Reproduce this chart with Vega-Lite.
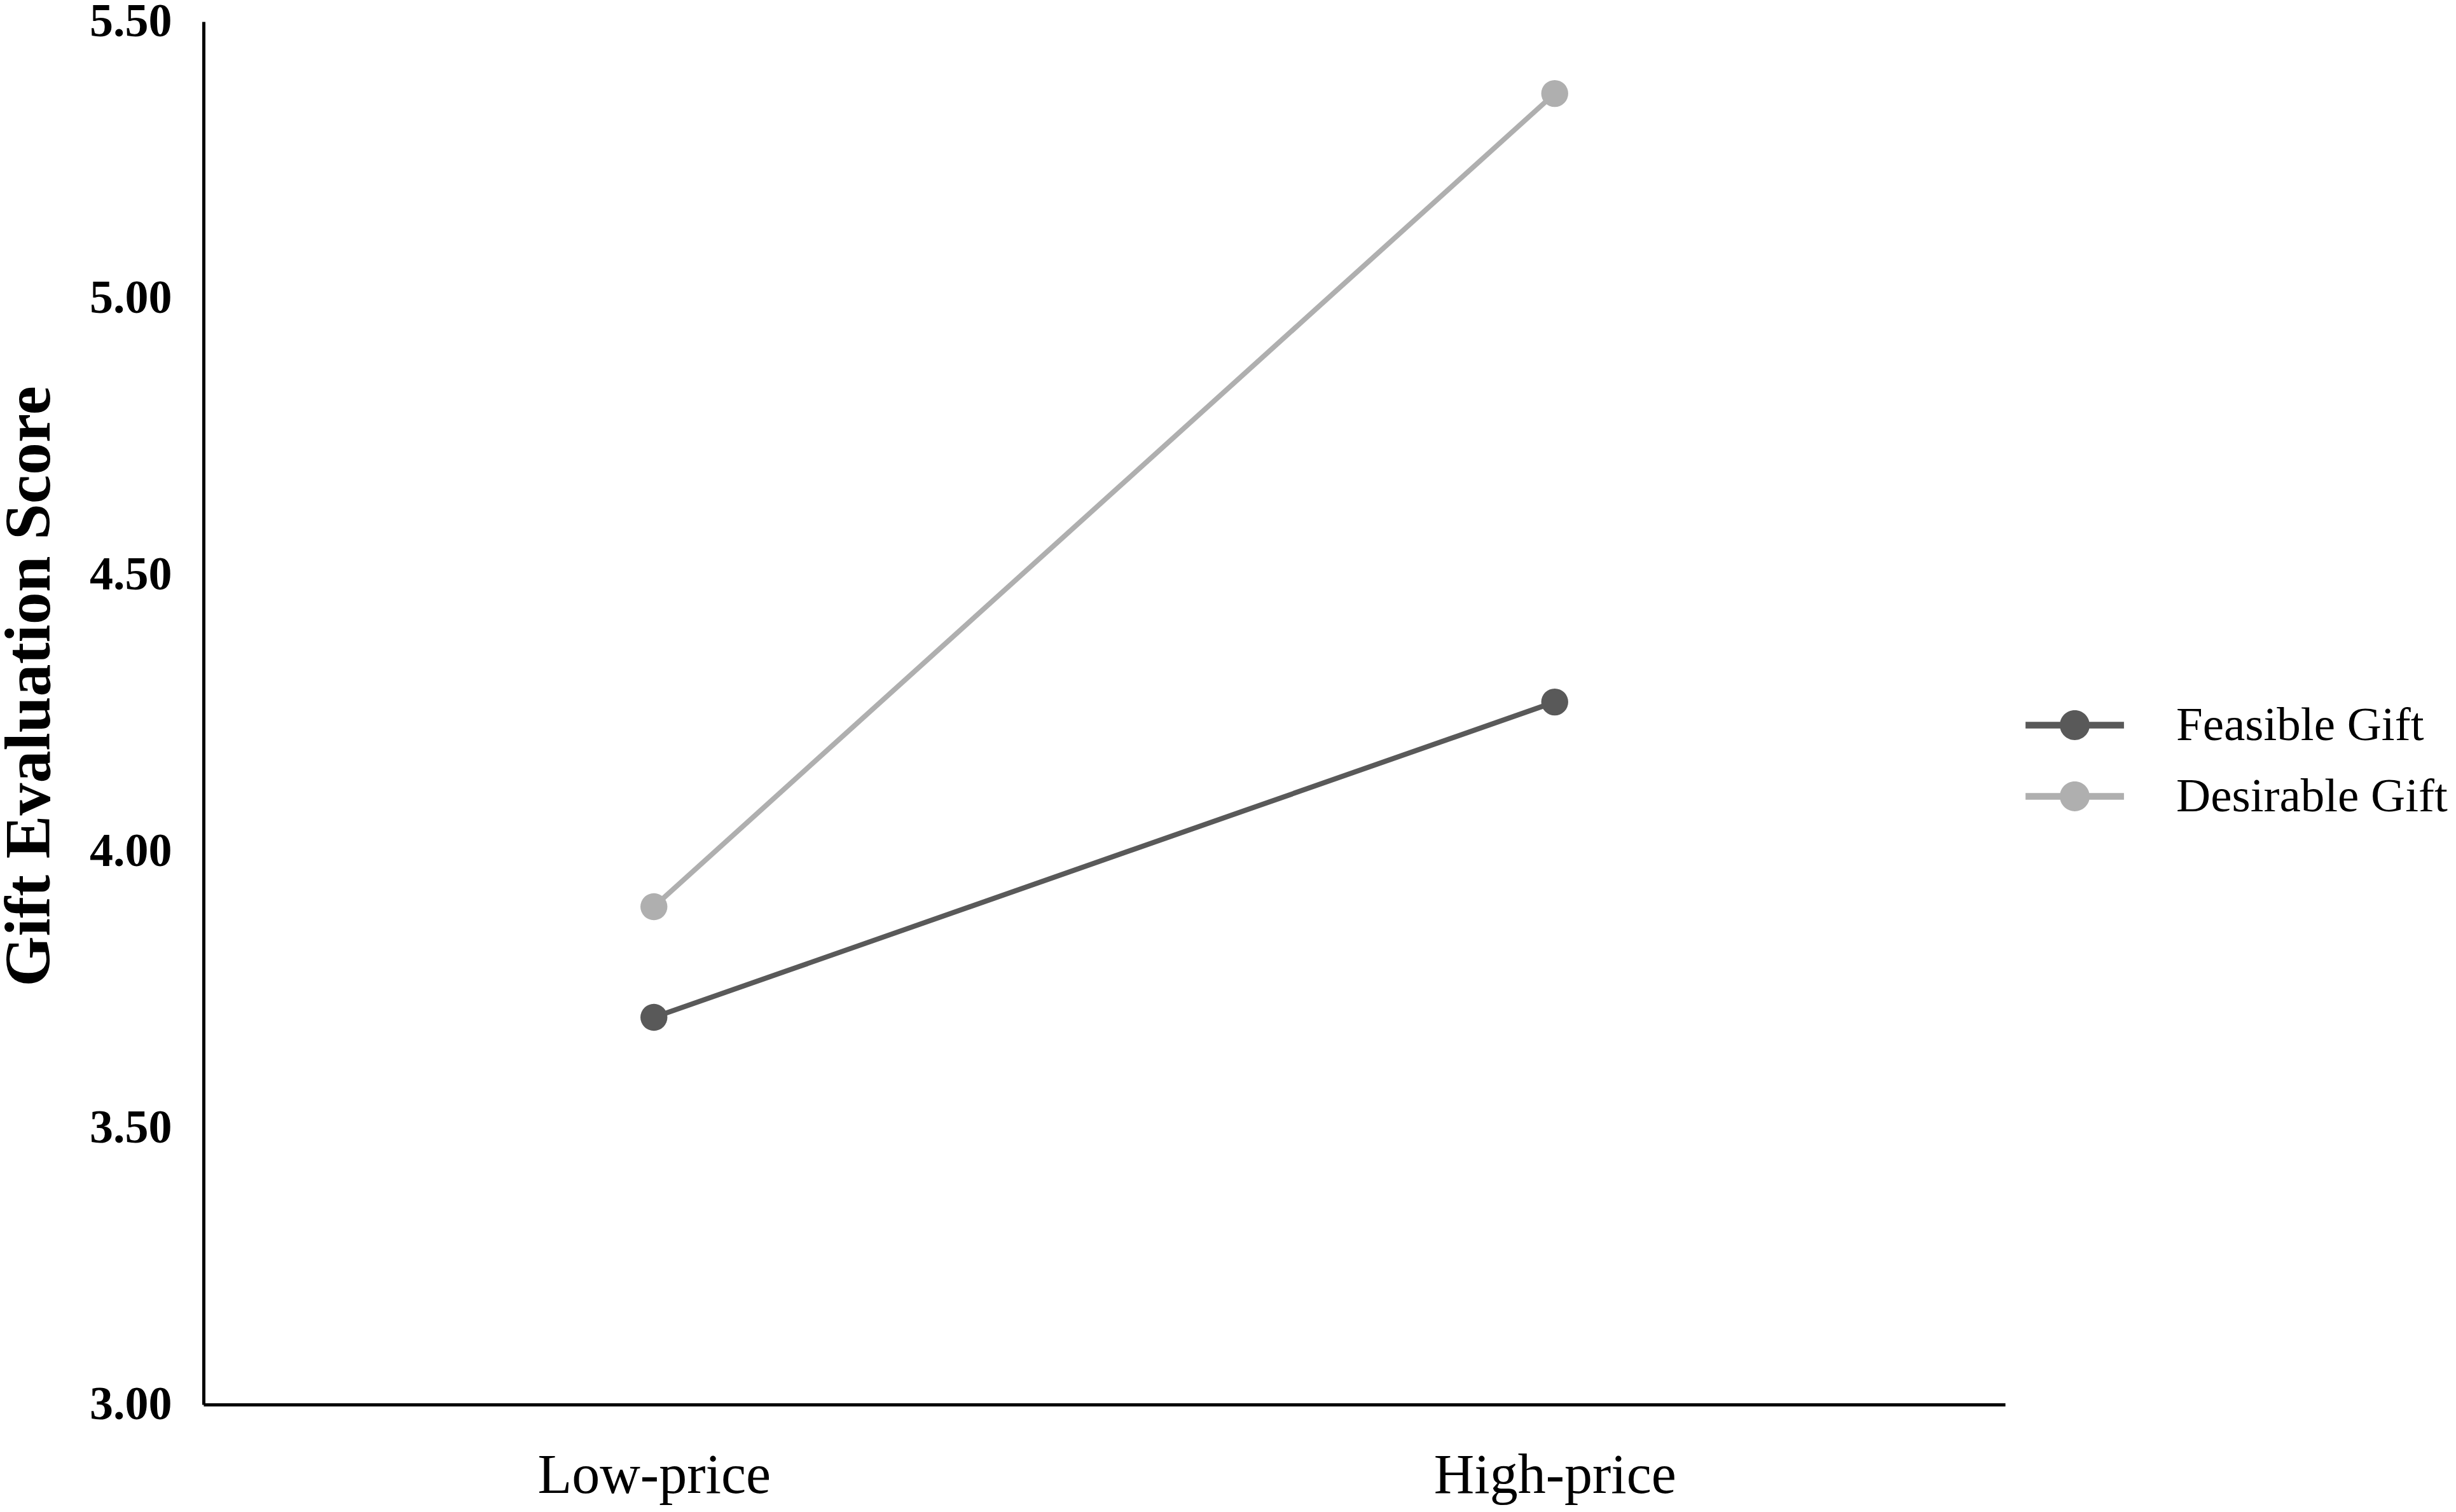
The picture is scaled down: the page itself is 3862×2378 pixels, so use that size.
{
  "$schema": "https://vega.github.io/schema/vega-lite/v6.json",
  "autosize": {"type": "none"},
  "width": 2833,
  "height": 2175,
  "padding": {"left": 320, "top": 34, "right": 709, "bottom": 169},
  "background": "white",
  "config": {
    "view": {"stroke": null},
    "font": "Liberation Serif"
  },
  "data": {
    "values": [
      {"price": "Low-price", "gift": "Feasible Gift", "score": 3.70},
      {"price": "High-price", "gift": "Feasible Gift", "score": 4.27},
      {"price": "Low-price", "gift": "Desirable Gift", "score": 3.90},
      {"price": "High-price", "gift": "Desirable Gift", "score": 5.37}
    ]
  },
  "encoding": {
    "x": {
      "field": "price",
      "type": "nominal",
      "sort": ["Low-price", "High-price"],
      "scale": {"type": "point", "padding": 0.5},
      "axis": {
        "title": null,
        "labelAngle": 0,
        "labelFont": "Liberation Serif",
        "labelFontSize": 88,
        "labelColor": "black",
        "labelPadding": 68,
        "labelLimit": 2000,
        "ticks": false,
        "domainColor": "black",
        "domainWidth": 5,
        "grid": false
      }
    },
    "y": {
      "field": "score",
      "type": "quantitative",
      "scale": {"domain": [3, 5.5], "nice": false, "zero": false},
      "axis": {
        "title": "Gift Evaluation Score",
        "titleFont": "Liberation Serif",
        "titleFontSize": 102,
        "titleFontWeight": "bold",
        "titleColor": "black",
        "titlePadding": 42,
        "titleY": 1045,
        "values": [3, 3.5, 4, 4.5, 5, 5.5],
        "format": ".2f",
        "labelFont": "Liberation Serif",
        "labelFontSize": 74,
        "labelFontWeight": "bold",
        "labelColor": "black",
        "labelPadding": 50,
        "ticks": false,
        "domainColor": "black",
        "domainWidth": 5,
        "grid": false
      }
    },
    "color": {
      "field": "gift",
      "type": "nominal",
      "sort": ["Feasible Gift", "Desirable Gift"],
      "scale": {"domain": ["Feasible Gift", "Desirable Gift"], "range": ["#595959", "#afafaf"]},
      "legend": {
        "title": null,
        "orient": "none",
        "legendX": 2905,
        "legendY": 1069,
        "padding": 0,
        "symbolType": "M-3.3,-0.22H3.3V0.22H-3.3Z M-1,0A1,1 0 1,1 1,0A1,1 0 1,1 -1,0Z",
        "symbolSize": 2200,
        "symbolStrokeWidth": 0,
        "symbolOpacity": 1,
        "labelFont": "Liberation Serif",
        "labelFontSize": 75,
        "labelColor": "black",
        "labelOffset": 122,
        "labelLimit": 1000,
        "rowPadding": 36
      }
    }
  },
  "layer": [
    {"mark": {"type": "line", "strokeWidth": 8}},
    {"mark": {"type": "point", "filled": true, "shape": "circle", "size": 1800, "opacity": 1}}
  ]
}
